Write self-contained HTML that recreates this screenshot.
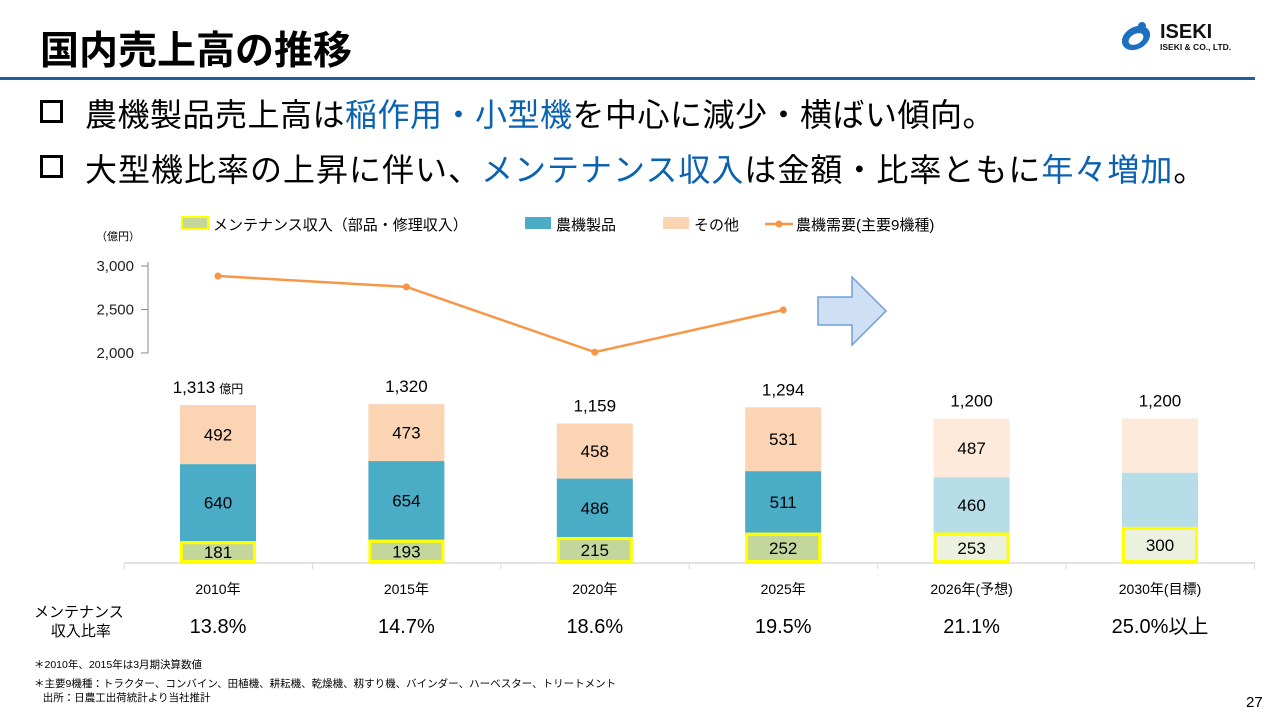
<!DOCTYPE html>
<html><head><meta charset="utf-8">
<style>
body{margin:0;width:1280px;height:720px;background:#fff;font-family:"Liberation Sans","Noto Sans CJK JP",sans-serif;position:relative;overflow:hidden;color:#000}
.abs{position:absolute;white-space:nowrap}
.b{color:#0a62b0}
.bul{display:inline-block;width:17px;height:17px;border:3px solid #000;margin-right:22px;vertical-align:3px}
</style></head><body>
<div class="abs" style="left:40px;top:20px;font-size:39px;font-weight:bold">国内売上高の推移</div>
<div class="abs" style="left:0;top:77px;width:1255px;height:3px;background:#1f5f9e"></div>
<div class="abs" style="left:1116px;top:16px;width:140px;height:40px">
 <svg width="140" height="40"><ellipse cx="20" cy="22" rx="15" ry="11" fill="#1f6fc0" transform="rotate(-30 20 22)"/><ellipse cx="20" cy="23" rx="8" ry="5" fill="#fff" transform="rotate(-30 20 23)"/><circle cx="26" cy="10" r="4" fill="#1f6fc0"/>
 <text x="44" y="22" font-size="20" font-weight="bold" font-family="Liberation Sans" fill="#111">ISEKI</text>
 <text x="44" y="34" font-size="8.5" font-weight="bold" font-family="Liberation Sans" fill="#111">ISEKI &amp; CO., LTD.</text></svg>
</div>
<div class="abs" style="left:40px;top:90px;font-size:32px;letter-spacing:0.5px"><span class="bul"></span>農機製品売上高は<span class="b">稲作用・小型機</span>を中心に減少・横ばい傾向。</div>
<div class="abs" style="left:40px;top:145px;font-size:32px;letter-spacing:1px"><span class="bul"></span>大型機比率の上昇に伴い、<span class="b">メンテナンス収入</span>は金額・比率ともに<span class="b">年々増加</span>。</div>

<svg id="chart" class="abs" style="left:0;top:0" width="1280" height="720"></svg>

<div class="abs" style="left:34px;top:603px;font-size:15px;text-align:center;line-height:19px">メンテナンス<br>&nbsp;収入比率</div>
<div class="abs" style="left:34px;top:657px;font-size:10.5px">＊2010年、2015年は3月期決算数値</div>
<div class="abs" style="left:34px;top:677px;font-size:10.5px;line-height:14px">＊主要9機種：トラクター、コンバイン、田植機、耕耘機、乾燥機、籾すり機、バインダー、ハーベスター、トリートメント<br>&nbsp;&nbsp;&nbsp;出所：日農工出荷統計より当社推計</div>
<div class="abs" style="left:1246px;top:694px;font-size:15px">27</div>

<script>
const categories=["2010年","2015年","2020年","2025年","2026年(予想)","2030年(目標)"];
const maintenance=[181,193,215,252,253,300];
const products=[640,654,486,511,460,450];
const others=[492,473,458,531,487,450];
const totals=["1,313","1,320","1,159","1,294","1,200","1,200"];
const productLabels=["640","654","486","511","460",""];
const otherLabels=["492","473","458","531","487",""];
const ratios=["13.8%","14.7%","18.6%","19.5%","21.1%","25.0%以上"];
const forecast=[false,false,false,false,true,true];
const demand=[2885,2760,2010,2495];
const demandTicks=[2000,2500,3000];

const svg=document.getElementById('chart');
const NS='http://www.w3.org/2000/svg';
function mk(t,a,txt){const e=document.createElementNS(NS,t);for(const k in a)e.setAttribute(k,a[k]);if(txt!==undefined)e.textContent=txt;svg.appendChild(e);return e;}
const base=563,k=158/1313;
const xC=i=>218+i*188.4;
const yV=v=>base-v*k;
const yD=v=>353-(v-2000)*0.087;
const F='Liberation Sans, Noto Sans CJK JP, sans-serif';

let e=mk('line',{x1:124,y1:base,x2:1255,y2:base,stroke:'#d9d9d9','stroke-width':1.5});

for(let i=0;i<=6;i++){const t=mk('line',{x1:124+i*188.4,y1:base,x2:124+i*188.4,y2:base+6,stroke:'#d9d9d9'});}

categories.forEach((c,i)=>{
 const x=xC(i),w=76,f=forecast[i];
 const y1=yV(maintenance[i]),y2=yV(maintenance[i]+products[i]),y3=yV(maintenance[i]+products[i]+others[i]);
 let r=mk('rect',{x:x-w/2,y:y3,width:w,height:y2-y3,fill:f?'#fdeada':'#fbd4b4'});
 
 r=mk('rect',{x:x-w/2,y:y2,width:w,height:y1-y2,fill:f?'#b7dde8':'#4bacc6'});
 
 r=mk('rect',{x:x-w/2+1.5,y:y1+1.5,width:w-3,height:base-y1-3,fill:f?'#ebf1de':'#c3d69b',stroke:'#ffff00','stroke-width':3});
 
 let t=mk('text',{x:x,y:(y1+base)/2+6,'text-anchor':'middle','font-size':17,'font-family':F},maintenance[i]);
 
 t=mk('text',{x:x,y:(y1+y2)/2+6,'text-anchor':'middle','font-size':17,'font-family':F},productLabels[i]);
 
 t=mk('text',{x:x,y:(y2+y3)/2+6,'text-anchor':'middle','font-size':17,'font-family':F},otherLabels[i]);
 
 t=mk('text',{x:x,y:y3-12,'text-anchor':'middle','font-size':17,'font-family':F},totals[i]);
 
 if(i===0){t.setAttribute('x',x-10);const u=document.createElementNS(NS,'tspan');u.setAttribute('font-size',12);u.setAttribute('dx',4);u.textContent='億円';t.appendChild(u);}
 t=mk('text',{x:x,y:594,'text-anchor':'middle','font-size':14,'font-family':F},c);
 
 t=mk('text',{x:x,y:633,'text-anchor':'middle','font-size':20,'font-family':F},ratios[i]);
 
});

e=mk('line',{x1:148,y1:262,x2:148,y2:353,stroke:'#888'});
demandTicks.forEach(v=>{const l=mk('line',{x1:141,y1:yD(v),x2:148,y2:yD(v),stroke:'#888'});
 const t=mk('text',{x:134,y:yD(v)+5,'text-anchor':'end','font-size':15,'font-family':F,fill:'#222'},v.toLocaleString('en-US'));});
e=mk('text',{x:96,y:240,'font-size':11,'font-family':F},'（億円）');
e=mk('polyline',{points:demand.map((v,i)=>xC(i)+','+yD(v)).join(' '),fill:'none',stroke:'#f79646','stroke-width':2.5});

demand.forEach((v,i)=>{const c=mk('circle',{cx:xC(i),cy:yD(v),r:3.5,fill:'#f79646'});});

e=mk('path',{d:'M818 297 L852 297 L852 277 L886 311 L852 345 L852 325 L818 325 Z',fill:'#cfe0f5',stroke:'#6f9fd8','stroke-width':1.5});


const L=[[182,'rect','#c3d69b','メンテナンス収入（部品・修理収入）'],[525,'rect','#4bacc6','農機製品'],[663,'rect','#fbd4b4','その他'],[765,'line','#f79646','農機需要(主要9機種)']];
L.forEach(([x,ty,col,lab])=>{
 let m;
 if(ty==='rect'){m=mk('rect',{x:x,y:217,width:26,height:12,fill:col,stroke:x===182?'#ffff00':'none','stroke-width':2});}
 else{m=mk('line',{x1:x,y1:224,x2:x+28,y2:224,stroke:col,'stroke-width':2.5});const d=mk('circle',{cx:x+14,cy:224,r:3.5,fill:col});}
 
 const t=mk('text',{x:x+31,y:230,'font-size':15,'font-family':F},lab);
});
</script>
</body></html>
